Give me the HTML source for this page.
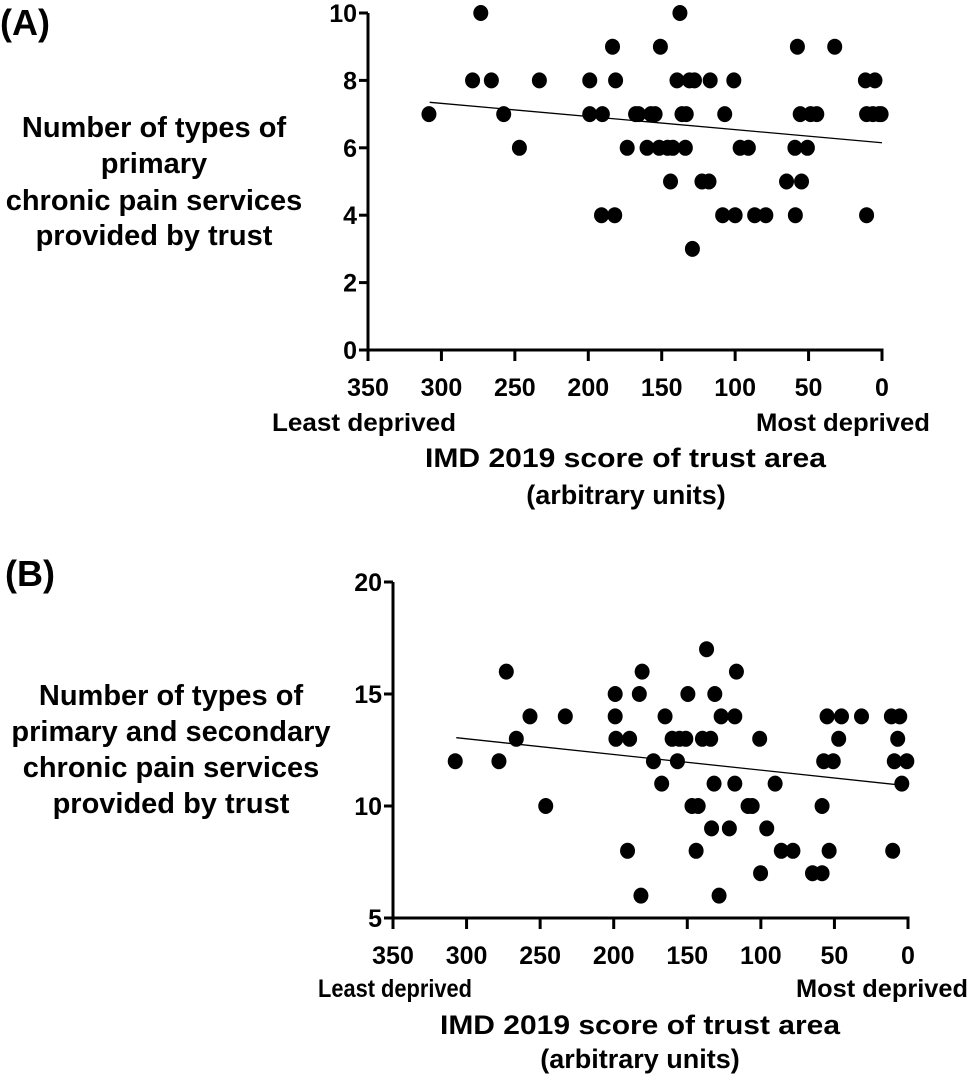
<!DOCTYPE html>
<html><head><meta charset="utf-8"><style>
body{margin:0;background:#fff}
svg text{font-family:"Liberation Sans",sans-serif;font-weight:bold;fill:#000}
</style></head><body>
<svg id="c" width="970" height="1079" viewBox="0 0 970 1079">
<text x="0" y="35" font-size="36">(A)</text>
<g text-anchor="middle" font-size="29">
<text x="154" y="137">Number of types of</text>
<text x="154" y="173">primary</text>
<text x="154" y="210">chronic pain services</text>
<text x="154" y="245">provided by trust</text>
</g>
<g font-size="25">
<text x="272" y="431" textLength="184" lengthAdjust="spacingAndGlyphs">Least deprived</text>
<text x="756" y="431" textLength="174" lengthAdjust="spacingAndGlyphs">Most deprived</text>
<text x="425" y="467" font-size="27" textLength="401" lengthAdjust="spacingAndGlyphs">IMD 2019 score of trust area</text>
<text x="626" y="504" text-anchor="middle" font-size="27">(arbitrary units)</text>
</g>
<text x="5" y="586" font-size="36">(B)</text>
<g text-anchor="middle" font-size="29">
<text x="171" y="705">Number of types of</text>
<text x="171" y="741">primary and secondary</text>
<text x="171" y="777">chronic pain services</text>
<text x="171" y="813">provided by trust</text>
</g>
<g font-size="25">
<text x="318" y="997" textLength="154" lengthAdjust="spacingAndGlyphs">Least deprived</text>
<text x="796" y="997" textLength="172" lengthAdjust="spacingAndGlyphs">Most deprived</text>
<text x="440" y="1034" font-size="27" textLength="400" lengthAdjust="spacingAndGlyphs">IMD 2019 score of trust area</text>
<text x="640" y="1068" text-anchor="middle" font-size="27">(arbitrary units)</text>
</g>
</svg>
<script>
const xTicks=[350,300,250,200,150,100,50,0];
const aYTicks=[0,2,4,6,8,10];
const bYTicks=[5,10,15,20];
const aX=[308.5,278.8,273.2,266,257.6,246.9,233.3,199,199,190.4,191,183.5,181.4,182,173.5,167.8,165.8,160,157.4,154.5,150.9,151.7,146,144,142.4,137.6,139.6,136.2,133.3,133.9,131.1,127.7,129.1,122.6,117.8,117,107.1,108.5,100,100.9,96.6,91,86.7,79.1,65,59,57.6,59.3,55.7,54.8,50.8,48.6,44.4,32.2,10.5,11.3,4.8,10.5,6.2,2,0.6];
const aY=[7,8,10,8,7,6,8,8,7,7,4,9,8,4,6,7,7,6,7,7,9,6,6,5,6,10,8,7,7,6,8,8,3,5,5,8,7,4,4,8,6,6,4,4,5,4,9,6,7,5,6,7,7,9,4,8,8,7,7,7,7];
const aFit=[[308,7.35],[0,6.15]];
const bX=[307.7,278,273,266.2,256.9,246.2,232.9,199,199,198.5,189.2,190.6,182.6,180.7,181.5,173,167.4,165.1,160.3,156.7,155.3,151,149.6,146.8,142.6,144,136.9,139.7,134.1,133.5,131.8,131.3,128.4,127,121.4,117.7,117.7,116.6,108.7,105.9,100.8,100.2,96,90.3,86.1,78.2,64.9,58.4,58.4,57.3,55,53.6,50.8,47.1,45.2,31.6,11.3,10.4,9.3,5.6,7,0.8,4.2];
const bY=[12,12,16,13,14,10,14,15,14,13,13,8,15,16,6,12,11,14,13,12,13,13,15,10,10,8,17,13,13,9,11,15,6,14,9,14,11,16,10,10,13,7,9,11,8,8,7,7,10,12,14,8,12,13,14,14,14,8,12,14,13,12,11];
const bFit=[[307,13.05],[0,10.9]];
const NS='http://www.w3.org/2000/svg';
const svg=document.getElementById('c');
function mk(t,a,p){const e=document.createElementNS(NS,t);for(const k in a)e.setAttribute(k,a[k]);(p||svg).appendChild(e);return e;}
function panel(id,x0,x1,y0,y1,ymin,ymax,yt,xs,ys,fit){
  const sx=v=>x0+(350-v)/350*(x1-x0);
  const sy=v=>y0-(v-ymin)/(ymax-ymin)*(y0-y1);
  const g=mk('g',{});
  
  
  const ya=mk('line',{x1:x0,y1:y1,x2:x0,y2:y0,stroke:'#000','stroke-width':3},g);
  
  
  const xa=mk('line',{x1:x0-1.5,y1:y0,x2:x1+1.5,y2:y0,stroke:'#000','stroke-width':3},g);
  
  
  yt.forEach(v=>{
    mk('line',{x1:x0-9,y1:sy(v),x2:x0,y2:sy(v),stroke:'#000','stroke-width':3},g);
    const t=mk('text',{x:x0-11,y:sy(v)+9,'text-anchor':'end','font-size':25},g);
    t.textContent=v;
    
    
  });
  xTicks.forEach(v=>{
    mk('line',{x1:sx(v),y1:y0,x2:sx(v),y2:y0+11,stroke:'#000','stroke-width':3},g);
    const t=mk('text',{x:sx(v),y:y0+46,'text-anchor':'middle','font-size':25},g);
    t.textContent=v;
    
    
  });
  const fl=mk('line',{x1:sx(fit[0][0]),y1:sy(fit[0][1]),x2:sx(fit[1][0]),y2:sy(fit[1][1]),stroke:'#000','stroke-width':1.3},g);
  
  
  xs.forEach((v,i)=>{
    const c=mk('ellipse',{cx:sx(v),cy:sy(ys[i]),rx:7.5,ry:8,fill:'#000'},g);
    
    
  });
}
panel('panel-a',368,882,350,13,0,10,aYTicks,aX,aY,aFit);
panel('panel-b',393,908,918,582,5,20,bYTicks,bX,bY,bFit);
</script>
</body></html>
